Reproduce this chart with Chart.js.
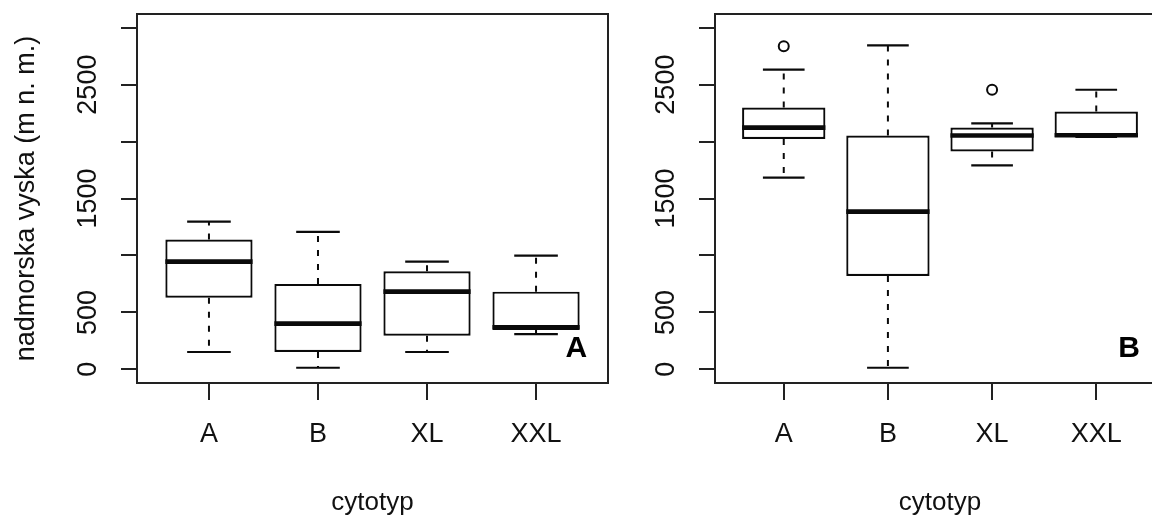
<!DOCTYPE html>
<html>
<head>
<meta charset="utf-8">
<script src="https://cdn.jsdelivr.net/npm/chart.js@4.4.1/dist/chart.umd.min.js"></script>
<style>
html,body{margin:0;padding:0;overflow:hidden;background:#fff;width:1152px;height:516px;}
canvas{position:absolute;top:0;}
#c1{left:0px;}
#c2{left:650px;}
</style>
</head>
<body>
<canvas id="c1" width="650" height="516"></canvas>
<canvas id="c2" width="530" height="516"></canvas>
<script>
// ---------- data ----------
const categories = ['A', 'B', 'XL', 'XXL'];
const yTickValues = [0, 500, 1000, 1500, 2000, 2500, 3000];
const yTickLabels = ['0', '500', '', '1500', '', '2500', ''];
const xAxisTitle = 'cytotyp';
const yAxisTitle = 'nadmorska vyska (m n. m.)';

// panel A (left)
const panelA_min    = [152, 14, 152, 310];
const panelA_q1     = [629, 152, 295, 345];
const panelA_median = [946, 401, 682, 370];
const panelA_q3     = [1139, 750, 861, 682];
const panelA_max    = [1297, 1207, 946, 999];
const panelA_outX   = [];
const panelA_outY   = [];

// panel B (right)
const panelB_min    = [1684, 14, 1790, 2040];
const panelB_q1     = [2022, 820, 1913, 2040];
const panelB_median = [2122, 1385, 2053, 2055];
const panelB_q3     = [2299, 2053, 2124, 2264];
const panelB_max    = [2631, 2844, 2159, 2455];
const panelB_outX   = ['A', 'XL'];
const panelB_outY   = [2836, 2455];

// ---------- style ----------
const FONT = '"Liberation Sans", Arial, Helvetica, sans-serif';
const INK = '#0a0a0a';
const FRAME = '#222222';
const TEXT = '#111111';
const X_MIN = 0.34, X_MAX = 4.66;
const Y_MIN = -120, Y_MAX = 3120;

const halfPx = (chart, w) => {
  const s = chart.scales.x;
  return Math.abs(s.getPixelForValue(1 + w) - s.getPixelForValue(1));
};

const rStyle = {
  id: 'rstyle',
  afterDraw(chart, args, opts) {
    const {ctx, chartArea: a, scales: {x, y}} = chart;
    ctx.save();
    ctx.strokeStyle = FRAME;
    ctx.lineWidth = 2;
    ctx.strokeRect(a.left, a.top, a.right - a.left, a.bottom - a.top);
    ctx.fillStyle = TEXT;
    ctx.font = '27px ' + FONT;
    ctx.textAlign = 'center';
    ctx.textBaseline = 'middle';
    y.ticks.forEach((t, i) => {
      const lab = yTickLabels[i];
      if (!lab) return;
      ctx.save();
      ctx.translate(a.left - 48, y.getPixelForValue(t.value));
      ctx.rotate(-Math.PI / 2);
      ctx.fillText(lab, 0, 0);
      ctx.restore();
    });
    ctx.fillStyle = '#000';
    ctx.font = 'bold 30px ' + FONT;
    ctx.fillText(opts.letter, x.getPixelForValue(opts.letterX), y.getPixelForValue(opts.letterY));
    ctx.restore();
  }
};

function makeChart(id, d, cfg) {
  const idx = c => categories.indexOf(c) + 1;
  const boxes = categories.map((c, i) => ({x: i + 1, y: [d.q1[i], d.q3[i]]}));
  const medians = categories.map((c, i) => ({x: i + 1, y: d.med[i]}));
  const caps = [];
  const whiskers = [];
  categories.forEach((c, i) => {
    caps.push({x: i + 1, y: d.lo[i]}, {x: i + 1, y: d.hi[i]});
    whiskers.push({x: i + 1, y: d.q3[i]}, {x: i + 1, y: d.hi[i]}, {x: i + 1, y: null},
                  {x: i + 1, y: d.q1[i]}, {x: i + 1, y: d.lo[i]}, {x: i + 1, y: null});
  });
  const outliers = d.outX.map((c, i) => ({x: idx(c), y: d.outY[i]}));

  return new Chart(document.getElementById(id), {
    type: 'scatter',
    data: {
      datasets: [
        { type: 'scatter', data: medians, order: 0, pointStyle: 'line',
          pointRadius: ctx => halfPx(ctx.chart, 0.4), pointBorderWidth: 4.6,
          pointBorderColor: INK, pointBackgroundColor: INK },
        { type: 'scatter', data: caps, order: 1, pointStyle: 'line',
          pointRadius: ctx => halfPx(ctx.chart, 0.2), pointBorderWidth: 2.2,
          pointBorderColor: INK, pointBackgroundColor: INK },
        { type: 'scatter', data: outliers, order: 1, pointStyle: 'circle',
          pointRadius: 5, pointBorderWidth: 2,
          pointBorderColor: INK, pointBackgroundColor: 'rgba(0,0,0,0)' },
        { type: 'line', data: whiskers, order: 2, borderColor: INK, borderWidth: 2,
          borderDash: [6, 8], pointRadius: 0, spanGaps: false, tension: 0, fill: false },
        { type: 'bar', data: boxes, order: 3, backgroundColor: '#ffffff', borderColor: INK,
          borderWidth: 2.2, borderSkipped: false, categoryPercentage: 1.0, barPercentage: 0.8 }
      ]
    },
    options: {
      responsive: false,
      animation: false,
      events: [],
      layout: { padding: { left: 0, top: 14, right: cfg.padRight, bottom: 0 } },
      plugins: {
        legend: { display: false },
        tooltip: { enabled: false },
        rstyle: { letter: cfg.letter, letterX: cfg.letterX, letterY: cfg.letterY }
      },
      scales: {
        x: {
          type: 'linear', min: X_MIN, max: X_MAX, offset: false,
          afterBuildTicks: s => { s.ticks = categories.map((c, i) => ({value: i + 1})); },
          afterFit: s => { s.height = 133; },
          ticks: { callback: (v, i) => categories[i], font: {family: FONT, size: 27},
                   color: TEXT, padding: 18, autoSkip: false, maxRotation: 0, minRotation: 0 },
          grid: { display: true, offset: false, drawOnChartArea: false, drawTicks: true, tickLength: 17,
                  color: FRAME, lineWidth: 2 },
          border: { display: false },
          title: { display: true, text: xAxisTitle, color: TEXT,
                   font: {family: FONT, size: 26, lineHeight: 1}, padding: {top: 0, bottom: 0} }
        },
        y: {
          type: 'linear', min: Y_MIN, max: Y_MAX, offset: false, beginAtZero: false,
          afterBuildTicks: s => { s.ticks = yTickValues.map(v => ({value: v})); },
          afterFit: s => { s.width = cfg.yWidth; },
          ticks: { display: false },
          grid: { display: true, offset: false, drawOnChartArea: false, drawTicks: true, tickLength: 16,
                  color: FRAME, lineWidth: 2 },
          border: { display: false },
          title: { display: cfg.showYTitle, text: yAxisTitle, color: TEXT,
                   font: {family: FONT, size: 27, lineHeight: 1}, padding: {top: 13, bottom: 0} }
        }
      }
    },
    plugins: [rStyle]
  });
}

makeChart('c1',
  {lo: panelA_min, q1: panelA_q1, med: panelA_median, q3: panelA_q3, hi: panelA_max,
   outX: panelA_outX, outY: panelA_outY},
  {padRight: 42, yWidth: 137, showYTitle: true, letter: 'A', letterX: 4.37, letterY: 180});

makeChart('c2',
  {lo: panelB_min, q1: panelB_q1, med: panelB_median, q3: panelB_q3, hi: panelB_max,
   outX: panelB_outX, outY: panelB_outY},
  {padRight: 15, yWidth: 65, showYTitle: false, letter: 'B', letterX: 4.315, letterY: 180});
</script>
</body>
</html>
